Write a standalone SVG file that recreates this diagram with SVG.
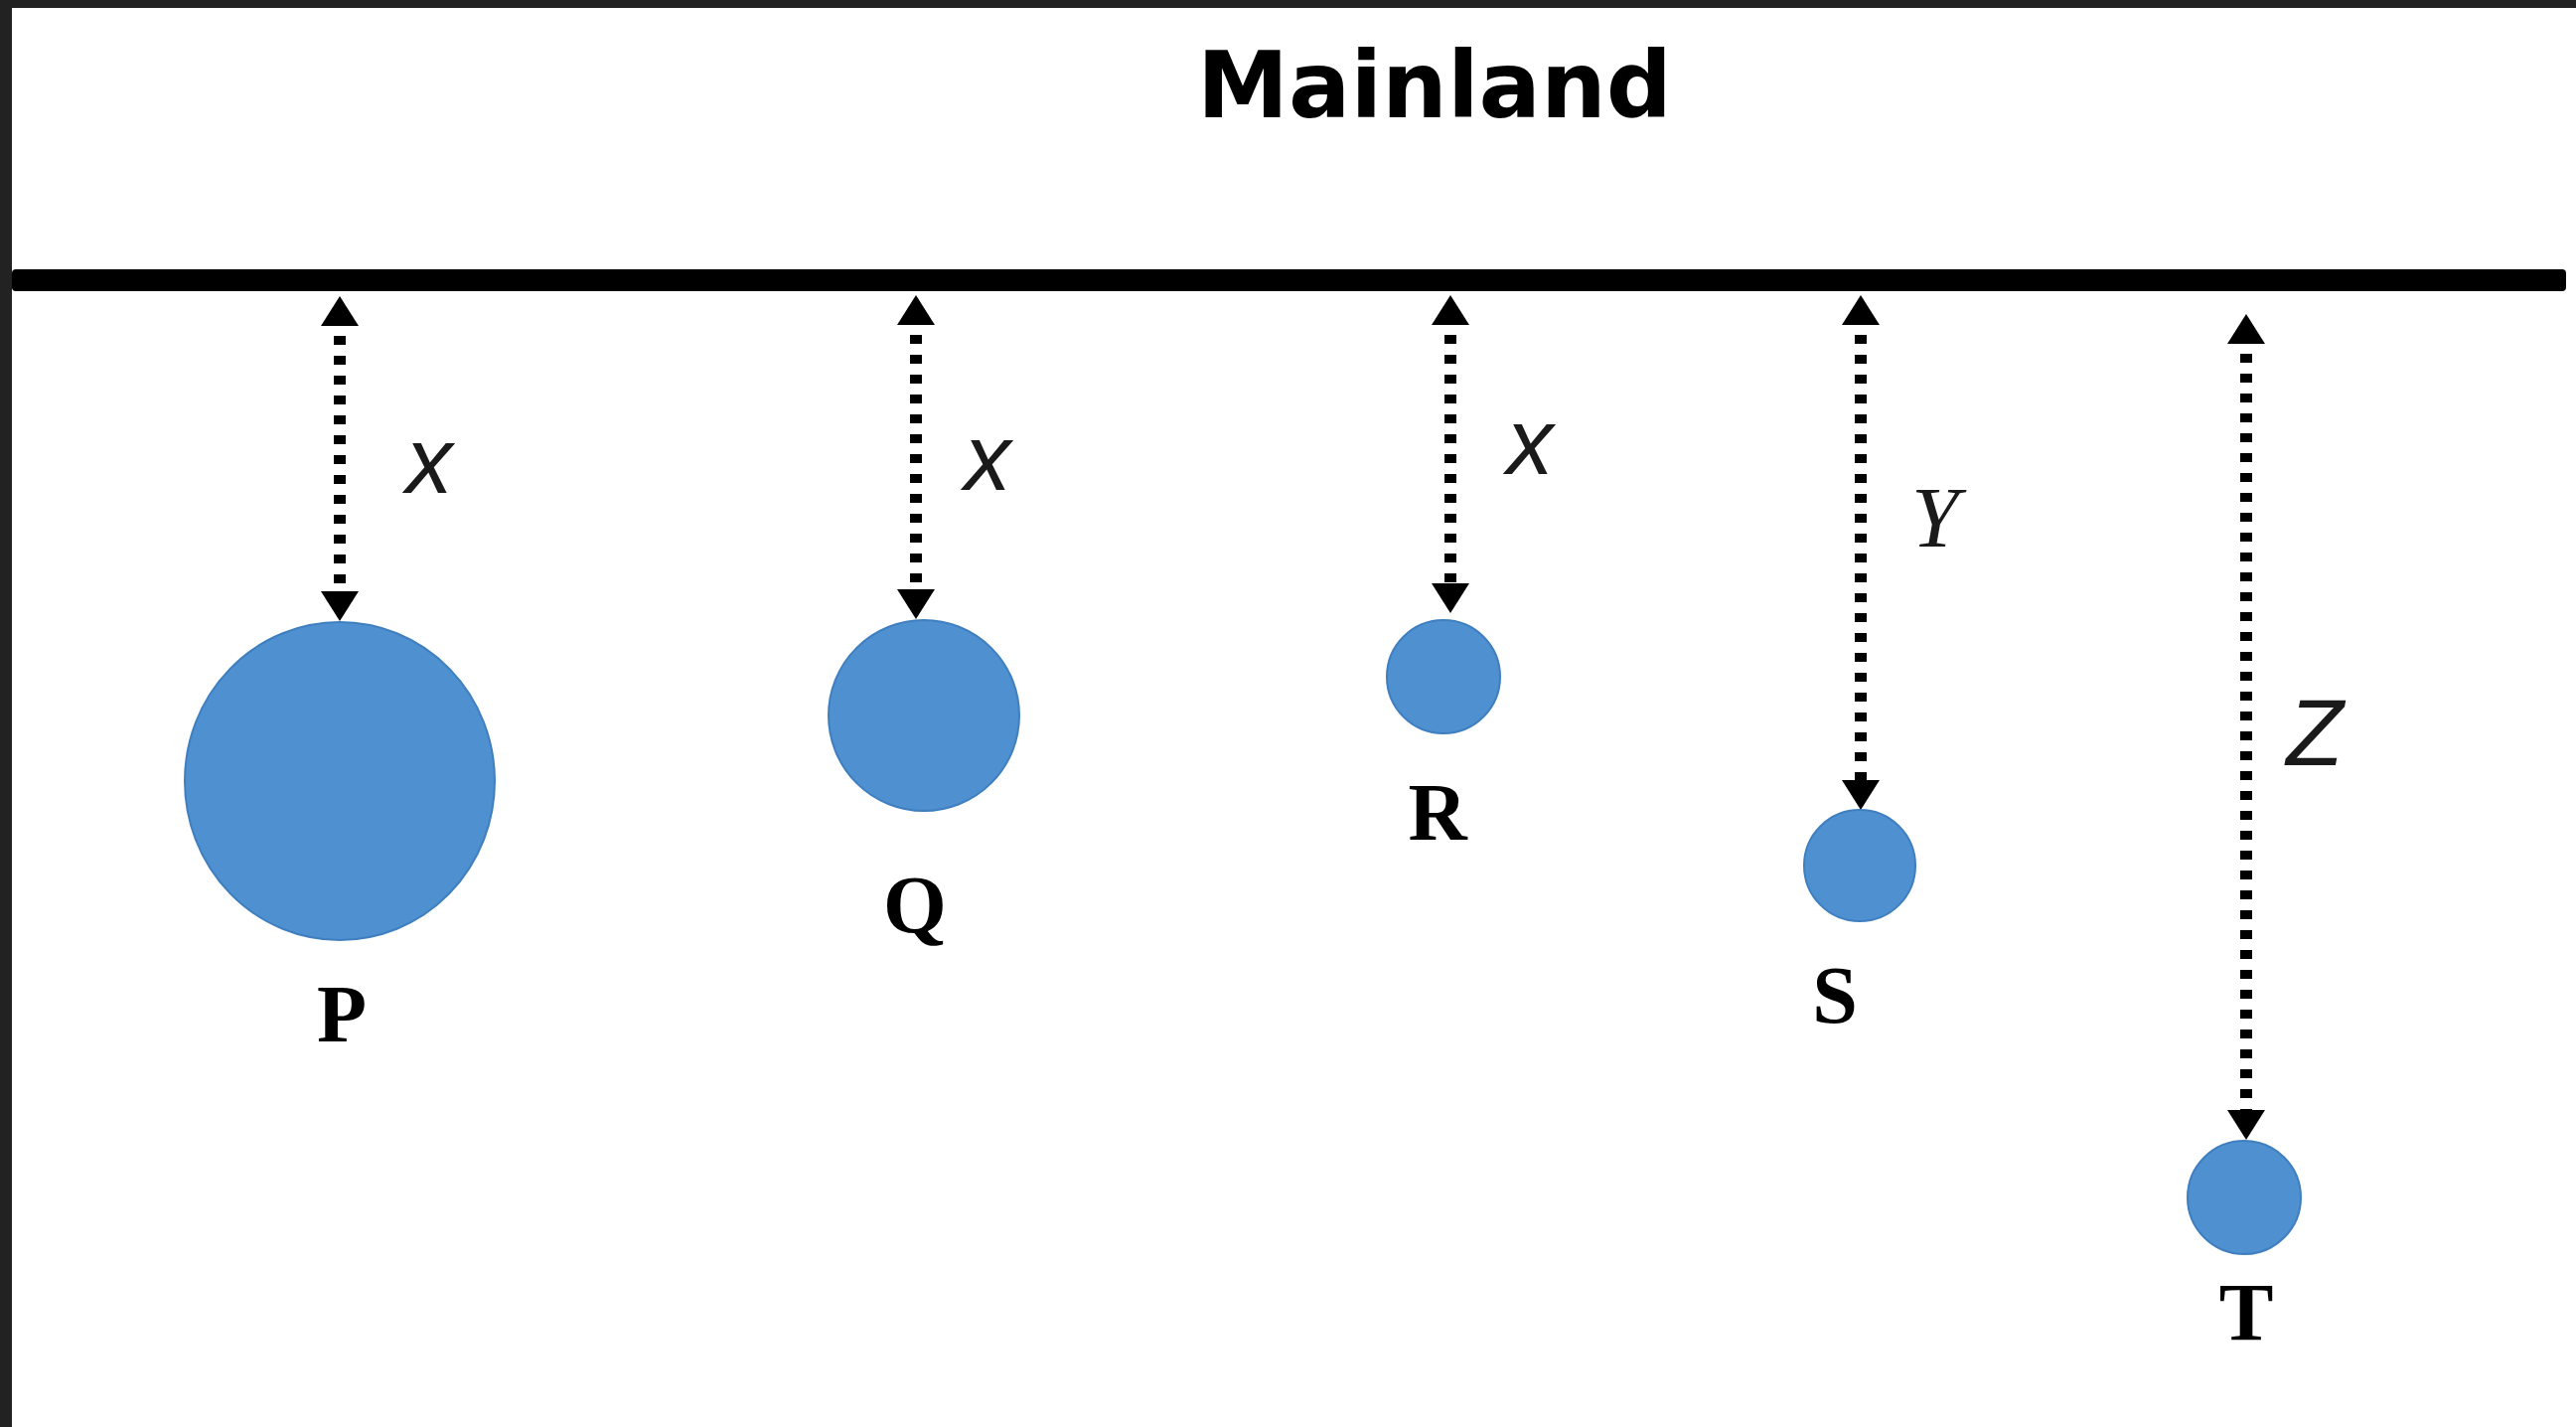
<svg xmlns="http://www.w3.org/2000/svg" width="2593" height="1436" viewBox="0 0 2593 1436">
<defs>
<style>
.isl{fill:#4f90d1;stroke:#3f7fbf;stroke-width:2}
.lbl{font-family:"Liberation Serif","Times New Roman",serif;font-weight:bold;font-size:82px;fill:#000;text-anchor:middle}
.var{font-family:"Liberation Sans",Arial,sans-serif;font-style:italic;font-size:94px;fill:#1a1a1a;text-anchor:middle}
.vary{font-family:"Liberation Serif","Times New Roman",serif;font-style:italic;font-size:86px;fill:#1a1a1a;text-anchor:middle}
.dist{stroke:#000;stroke-width:12;stroke-dasharray:9 11;stroke-dashoffset:-10;fill:none}
</style>
<marker id="ah" viewBox="0 0 30 38" refX="0" refY="19" markerWidth="30" markerHeight="38" markerUnits="userSpaceOnUse" orient="auto-start-reverse">
<path d="M0,0 L30,19 L0,38 Z" fill="#000"/>
</marker>
</defs>
<rect x="0" y="0" width="2593" height="1436" fill="#fff"/>
<rect x="0" y="0" width="2593" height="8" fill="#222"/>
<rect x="0" y="0" width="12" height="1436" fill="#222"/>

<g id="mainland">
<text x="1444" y="118" font-family="'DejaVu Sans',Verdana,sans-serif" font-weight="bold" font-size="92" text-anchor="middle" textLength="478" lengthAdjust="spacingAndGlyphs" fill="#000">Mainland</text>
<rect x="12" y="271" width="2571" height="22" rx="4" fill="#000"/>
</g>

<g id="connectors">
<line class="dist" x1="342" y1="328" x2="342" y2="595" marker-start="url(#ah)" marker-end="url(#ah)"/>
<line class="dist" x1="922" y1="327" x2="922" y2="593" marker-start="url(#ah)" marker-end="url(#ah)"/>
<line class="dist" x1="1460" y1="327" x2="1460" y2="587" marker-start="url(#ah)" marker-end="url(#ah)"/>
<line class="dist" x1="1873" y1="327" x2="1873" y2="785" marker-start="url(#ah)" marker-end="url(#ah)"/>
<line class="dist" x1="2261" y1="346" x2="2261" y2="1117" marker-start="url(#ah)" marker-end="url(#ah)"/>
<text class="var" x="432" y="496">x</text>
<text class="var" x="994" y="493">x</text>
<text class="var" x="1540" y="477">x</text>
<text class="vary" x="1948" y="550">Y</text>
<text class="var" x="2330" y="770" font-size="66">Z</text>
</g>

<g id="island-P">
<ellipse class="isl" cx="342" cy="786" rx="156" ry="160"/>
<text class="lbl" x="344" y="1048">P</text>
</g>
<g id="island-Q">
<circle class="isl" cx="930" cy="720" r="96"/>
<text class="lbl" x="921" y="938">Q</text>
</g>
<g id="island-R">
<circle class="isl" cx="1453" cy="681" r="57"/>
<text class="lbl" x="1447" y="845">R</text>
</g>
<g id="island-S">
<circle class="isl" cx="1872" cy="871" r="56"/>
<text class="lbl" x="1847" y="1029">S</text>
</g>
<g id="island-T">
<circle class="isl" cx="2259" cy="1205" r="57"/>
<text class="lbl" x="2261" y="1348">T</text>
</g>
</svg>
